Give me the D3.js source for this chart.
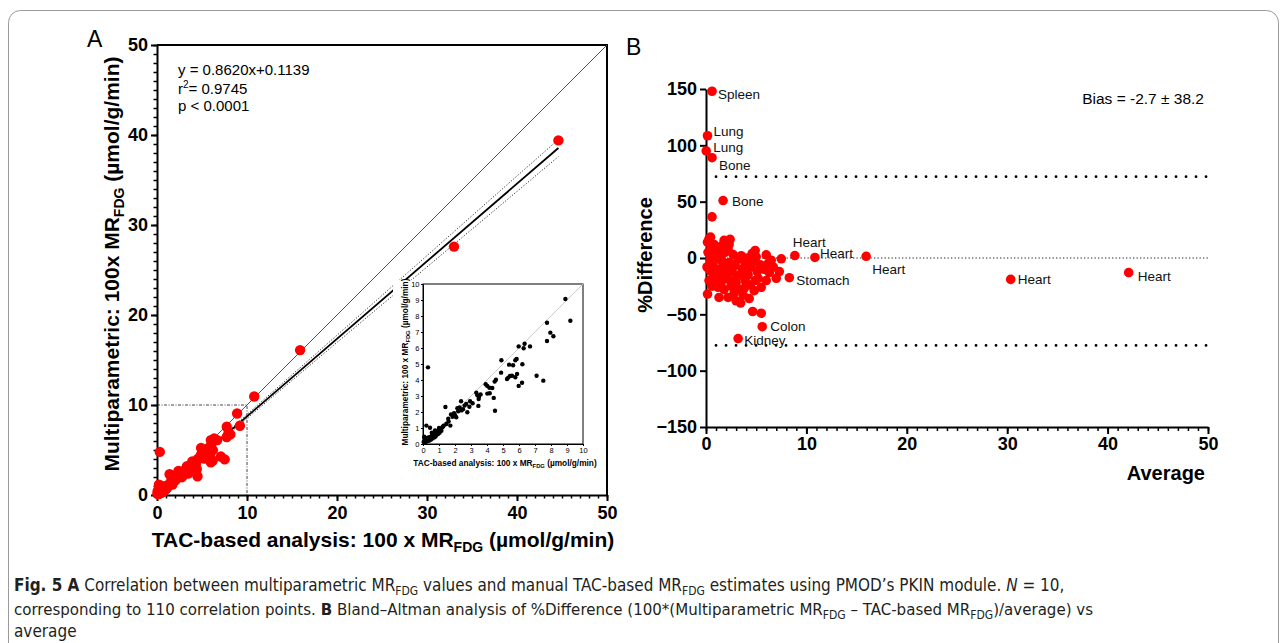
<!DOCTYPE html>
<html>
<head>
<meta charset="utf-8">
<script src="https://cdn.jsdelivr.net/npm/d3@7"></script>
<style>
  body { margin: 0; background: #fff; }
  svg { display: block; font-family: "Liberation Sans", Arial, sans-serif; }
</style>
</head>
<body>
<svg id="fig" width="1287" height="643"></svg>
<script>
// ---- panel A : TAC-based vs multiparametric (100 x MRFDG) ----
const tacVals = [8.9, 9.21, 7.75, 7.96, 8.15, 7.75, 5.98, 6.35, 6.29, 6.69,
  4.9, 5.77, 5.85, 5.38, 5.63, 6.21, 4.88, 5.88, 5.44, 5.33,
  5.25, 5.56, 5.77, 7.1, 7.52, 5.98, 6.19, 4.56, 4.48, 4.33,
  4.17, 3.92, 4.02, 4.15, 4.02, 4.42, 4.5, 3.6, 3.5, 3.33,
  3.48, 3.46, 2.94, 2.9, 2.77, 2.38, 2.29, 2.5, 2.15, 2.08,
  1.94, 1.75, 1.58, 1.71, 1.4, 1.46, 1.21, 1.08, 0.98, 0.88,
  0.77, 0.63, 0.5, 0.38, 0.25, 0.13, 0.04, 0.21, 0.44, 0.31,
  0.08, 0.94, 0.73, 1.04, 2.2, 2.6, 3.1, 1.85, 1.25, 0.55,
  0.65, 0.85, 1.15, 0.35, 0.6, 0.15, 0.45, 0.7, 0.92, 1.3,
  1.1, 0.28, 0.5, 0.8, 0.2, 0.4, 2.4, 2.7, 3.4, 0.1,
  1.0, 0.55, 2.0, 1.6, 0.3, 0.75, 10.8, 15.9, 33.0, 44.6];
const multiVals = [9.06, 7.7, 7.58, 6.96, 6.73, 6.44, 6.1, 6.27, 5.98, 6.1,
  5.23, 5.23, 5.31, 4.96, 4.92, 4.98, 4.46, 4.38, 4.25, 4.15,
  4.06, 4.27, 4.17, 4.27, 3.96, 3.63, 3.83, 4.02, 3.9, 3.5,
  3.17, 3.73, 3.63, 3.52, 3.15, 2.88, 2.08, 3.1, 2.96, 3.21,
  2.81, 2.38, 2.67, 2.33, 1.98, 2.67, 2.29, 2.17, 2.23, 1.67,
  1.92, 1.85, 1.58, 1.15, 2.31, 1.25, 1.04, 0.96, 0.88, 0.77,
  0.67, 0.54, 0.46, 0.42, 0.33, 0.25, 0.13, 1.15, 1.02, 4.79,
  0.46, 0.63, 0.42, 0.71, 2.05, 2.4, 2.55, 1.7, 1.1, 0.5,
  0.62, 0.58, 0.83, 0.28, 0.35, 0.1, 0.38, 0.55, 0.72, 1.15,
  0.9, 0.38, 0.28, 0.5, 0.15, 0.22, 2.1, 2.5, 3.05, 0.35,
  1.0, 0.7, 1.8, 1.4, 0.2, 0.85, 10.95, 16.1, 27.6, 39.4];

const regSlope = 0.8620, regIntercept = 0.1139, regMaxX = 44.6;
const ciX = [0, 5, 10, 20, 30, 40, 44.6];
const ciUpper = [0.33, 4.56, 8.95, 17.75, 26.6, 35.45, 39.5];
const ciLower = [-0.1, 4.28, 8.51, 16.95, 25.34, 33.73, 37.6];
const statLines = ["y = 0.8620x+0.1139", "= 0.9745", "p < 0.0001"];
const ticksA = [0, 10, 20, 30, 40, 50];
const ticksInset = d3.range(0, 11);

// ---- panel B : Bland-Altman ----
const avgVals = [0.6, 0.3, 0.45, 0.15, 1.8, 2.4, 2.3, 1.6, 4.9, 6.0,
  7.5, 7.3, 7.0, 5.5, 4.8, 3.45, 1.3, 0.15, 4.65, 5.5,
  0.5, 0.9, 1.0, 0.2, 0.4, 0.1, 0.7, 1.2, 0.9, 0.3,
  0.6, 1.5, 1.8, 2.1, 2.5, 2.8, 3.0, 3.3, 3.7, 3.9,
  4.2, 4.4, 2.0, 2.3, 2.6, 2.9, 3.2, 3.6, 3.9, 4.1,
  4.5, 4.7, 5.1, 5.4, 5.8, 6.2, 6.5, 5.2, 6.0, 4.3,
  2.2, 3.0, 1.1, 1.4, 1.9, 2.2, 2.7, 3.4, 4.0, 1.6,
  0.8, 1.3, 5.0, 4.6, 6.7, 6.3, 1.7, 2.4, 0.5, 3.5,
  4.9, 3.8, 1.0, 0.3, 2.0, 1.5, 2.6, 3.1, 0.7, 1.2];
const diffVals = [36.5, 17, 18.5, 14, 15.6, 16.5, 12, 11, 6.7, 2.8,
  -0.7, -12, -18, -26, -29, -40, -35, -32, -47.5, -49,
  10, 7, 4, 5, -2, -8, -5, -10, -15, -20,
  -25, -22, -28, -18, -25, -31, -22, -28, -33, -20,
  -15, -24, -8, -4, -12, -6, -1, -10, -5, 0,
  -8, -3, -12, -6, -10, -5, -2, -18, -20, -36,
  -35, -38, 0, 3, 5, 8, 3, -15, -12, -3,
  12, 8, 1, 4, -8, -13, -14, -20, -12, 2,
  -20, -27, -18, -10, -14, 0, -9, -16, 2, -26];
const labelNames = ["Spleen", "Lung", "Lung", "Bone", "Bone", "Heart", "Heart", "Heart",
  "Stomach", "Heart", "Heart", "Colon", "Kidney"];
const labelAvg = [0.6, 0.15, 0.02, 0.6, 1.7, 8.85, 10.85, 15.95, 8.3, 30.35, 42.1, 5.6, 3.2];
const labelDiff = [148, 108.5, 95, 89, 51, 2.2, 0.5, 1.5, -17.5, -19, -13, -61, -71.5];
const biasText = "Bias = -2.7 ± 38.2";
const loaUpper = 72.2, loaLower = -77.6, zeroLine = 0;
const ticksBx = [0, 10, 20, 30, 40, 50];
const ticksBy = [-150, -100, -50, 0, 50, 100, 150];

// label offsets (px) for the organ names
const labelOffsets = [[6, 8], [6, 0], [7, 1], [7, 12], [9, 5], [-2, -9], [5, 1], [6, 18],
  [7, 7], [7, 5], [9, 8], [8, 4], [6, 6]];

const svg = d3.select('#fig');
const FONT = '"Liberation Sans", Arial, sans-serif';
const RED = '#ff0000';

// frame around figure + caption
svg.append('rect')
  .attr('x', 8.5).attr('y', 10.5).attr('width', 1270).attr('height', 645)
  .attr('rx', 12).attr('fill', 'none').attr('stroke', '#9a9a9a').attr('stroke-width', 1);

function styleAxis(g, fs) {
  g.attr('font-family', FONT).attr('font-size', fs).attr('font-weight', 'bold');
  g.select('.domain').attr('stroke-width', 2);
  g.selectAll('.tick line').attr('stroke-width', 2);
  g.selectAll('.tick text').attr('fill', '#000');
}

function minorAxis(axisFn, scale, values, size, transform) {
  const g = svg.append('g').attr('transform', transform)
    .call(axisFn(scale).tickValues(values).tickSize(size).tickFormat('').tickSizeOuter(0));
  g.select('.domain').remove();
  g.selectAll('.tick line').attr('stroke-width', 1.5);
}

// ================= Panel A =================
const xA = d3.scaleLinear().domain([0, 50]).range([157, 607]);
const yA = d3.scaleLinear().domain([0, 50]).range([495, 45]);

svg.append('text').attr('x', 87).attr('y', 47).attr('font-size', 23)
  .attr('font-family', FONT).text('A');

// frame top/right
svg.append('path')
  .attr('d', `M${xA(0)},${yA(50)}H${xA(50)}V${yA(0)}`)
  .attr('fill', 'none').attr('stroke', '#000').attr('stroke-width', 2);

// identity line
svg.append('line')
  .attr('x1', xA(0)).attr('y1', yA(0)).attr('x2', xA(50)).attr('y2', yA(50))
  .attr('stroke', '#555').attr('stroke-width', 1);

// zoom window indicator
svg.append('path')
  .attr('d', `M${xA(0)},${yA(10)}H${xA(10)}V${yA(0)}`)
  .attr('fill', 'none').attr('stroke', '#444').attr('stroke-width', 1)
  .attr('stroke-dasharray', '3 1.5 1 1.5');

// confidence bands
const ciLine = d3.line().x((d, i) => xA(ciX[i])).y(d => yA(d));
[ciUpper, ciLower].forEach(arr => {
  svg.append('path').attr('d', ciLine(arr)).attr('fill', 'none')
    .attr('stroke', '#333').attr('stroke-width', 1).attr('stroke-dasharray', '1.2 1.8');
});

// regression line
svg.append('line')
  .attr('x1', xA(0)).attr('y1', yA(regIntercept))
  .attr('x2', xA(regMaxX)).attr('y2', yA(regSlope * regMaxX + regIntercept))
  .attr('stroke', '#000').attr('stroke-width', 1.8);

// axes
minorAxis(d3.axisBottom, xA, d3.range(0, 51), 3.5, `translate(0,${yA(0)})`);
minorAxis(d3.axisLeft, yA, d3.range(0, 51), 3.5, `translate(${xA(0)},0)`);
const gxA = svg.append('g').attr('transform', `translate(0,${yA(0)})`)
  .call(d3.axisBottom(xA).tickValues(ticksA).tickSize(6).tickPadding(5).tickSizeOuter(0));
styleAxis(gxA, 18);
const gyA = svg.append('g').attr('transform', `translate(${xA(0)},0)`)
  .call(d3.axisLeft(yA).tickValues(ticksA).tickSize(6).tickPadding(3).tickSizeOuter(0));
styleAxis(gyA, 18);

// axis titles
const xtA = svg.append('text').attr('x', 383).attr('y', 547).attr('text-anchor', 'middle')
  .attr('font-family', FONT).attr('font-weight', 'bold').attr('font-size', 21);
xtA.append('tspan').text('TAC-based analysis: 100 x MR');
xtA.append('tspan').attr('font-size', 14).attr('dy', 5).text('FDG');
xtA.append('tspan').attr('dy', -5).text(' (µmol/g/min)');

const ytA = svg.append('text').attr('transform', 'translate(119,264) rotate(-90)')
  .attr('text-anchor', 'middle')
  .attr('font-family', FONT).attr('font-weight', 'bold').attr('font-size', 21);
ytA.append('tspan').text('Multiparametric: 100x MR');
ytA.append('tspan').attr('font-size', 14).attr('dy', 5).text('FDG');
ytA.append('tspan').attr('dy', -5).text(' (µmol/g/min)');

// stats text
const st = svg.append('g').attr('font-family', FONT).attr('font-size', 15);
st.append('text').attr('x', 178).attr('y', 75).text(statLines[0]);
const r2 = st.append('text').attr('x', 178).attr('y', 94);
r2.append('tspan').text('r');
r2.append('tspan').attr('font-size', 10).attr('dy', -6).text('2');
r2.append('tspan').attr('dy', 6).text(statLines[1]);
st.append('text').attr('x', 178).attr('y', 111).text(statLines[2]);

// red points
svg.append('g').selectAll('circle')
  .data(tacVals)
  .join('circle')
  .attr('cx', d => xA(d))
  .attr('cy', (d, i) => yA(multiVals[i]))
  .attr('r', 5.2)
  .attr('fill', RED);

// ---- inset ----
const xI = d3.scaleLinear().domain([0, 10]).range([423, 583]);
const yI = d3.scaleLinear().domain([0, 10]).range([444, 284]);
svg.append('rect').attr('x', 393).attr('y', 280).attr('width', 210).attr('height', 192).attr('fill', '#fff');
svg.append('rect').attr('x', xI(0)).attr('y', yI(10)).attr('width', xI(10) - xI(0))
  .attr('height', yI(0) - yI(10)).attr('fill', 'none').attr('stroke', '#000').attr('stroke-width', 1);
svg.append('line')
  .attr('x1', xI(0)).attr('y1', yI(0)).attr('x2', xI(10)).attr('y2', yI(10))
  .attr('stroke', '#c8c8c8').attr('stroke-width', 1);

const gxI = svg.append('g').attr('transform', `translate(0,${yI(0)})`)
  .call(d3.axisBottom(xI).tickValues(ticksInset).tickSize(2).tickPadding(1.5).tickSizeOuter(0));
gxI.attr('font-family', FONT).attr('font-size', 7.5);
gxI.selectAll('.tick text').attr('fill', '#000');
const gyI = svg.append('g').attr('transform', `translate(${xI(0)},0)`)
  .call(d3.axisLeft(yI).tickValues(ticksInset).tickSize(2).tickPadding(1.5).tickSizeOuter(0));
gyI.attr('font-family', FONT).attr('font-size', 7.5);
gyI.selectAll('.tick text').attr('fill', '#000');

const xtI = svg.append('text').attr('x', 505).attr('y', 466).attr('text-anchor', 'middle')
  .attr('font-family', FONT).attr('font-weight', 'bold').attr('font-size', 8.3);
xtI.append('tspan').text('TAC-based analysis: 100 x MR');
xtI.append('tspan').attr('font-size', 5.8).attr('dy', 2).text('FDG');
xtI.append('tspan').attr('dy', -2).text(' (µmol/g/min)');
const ytI = svg.append('text').attr('transform', 'translate(408,362) rotate(-90)')
  .attr('text-anchor', 'middle')
  .attr('font-family', FONT).attr('font-weight', 'bold').attr('font-size', 8.3);
ytI.append('tspan').text('Multiparametric: 100 x MR');
ytI.append('tspan').attr('font-size', 5.8).attr('dy', 2).text('FDG');
ytI.append('tspan').attr('dy', -2).text(' (µmol/g/min)');

svg.append('g').selectAll('circle')
  .data(tacVals.map((d, i) => [d, multiVals[i]]).filter(p => p[0] <= 10))
  .join('circle')
  .attr('cx', p => xI(p[0]))
  .attr('cy', p => yI(p[1]))
  .attr('r', 2.2)
  .attr('fill', '#000');

// ================= Panel B =================
const xB = d3.scaleLinear().domain([0, 50]).range([706, 1208]);
const yB = d3.scaleLinear().domain([-150, 150]).range([427, 89]);

svg.append('text').attr('x', 626).attr('y', 55).attr('font-size', 23)
  .attr('font-family', FONT).text('B');

// limits of agreement
[loaUpper, loaLower].forEach(v => {
  svg.append('line')
    .attr('x1', xB(1)).attr('x2', xB(50)).attr('y1', yB(v)).attr('y2', yB(v))
    .attr('stroke', '#000').attr('stroke-width', 2.8).attr('stroke-linecap', 'round')
    .attr('stroke-dasharray', '0 10');
});
svg.append('line')
  .attr('x1', xB(0)).attr('x2', xB(50)).attr('y1', yB(zeroLine)).attr('y2', yB(zeroLine))
  .attr('stroke', '#222').attr('stroke-width', 1).attr('stroke-dasharray', '1.3 2.2');

minorAxis(d3.axisBottom, xB, d3.range(0, 51), 4, `translate(0,${yB(-150)})`);
const gxB = svg.append('g').attr('transform', `translate(0,${yB(-150)})`)
  .call(d3.axisBottom(xB).tickValues(ticksBx).tickSize(7).tickPadding(3).tickSizeOuter(0));
styleAxis(gxB, 18);
const gyB = svg.append('g').attr('transform', `translate(${xB(0)},0)`)
  .call(d3.axisLeft(yB).tickValues(ticksBy).tickSize(6).tickPadding(3).tickSizeOuter(0));
styleAxis(gyB, 18);

svg.append('text').attr('transform', 'translate(652,255) rotate(-90)')
  .attr('text-anchor', 'middle').attr('font-family', FONT)
  .attr('font-weight', 'bold').attr('font-size', 20).text('%Difference');
svg.append('text').attr('x', 1205).attr('y', 480).attr('text-anchor', 'end')
  .attr('font-family', FONT).attr('font-weight', 'bold').attr('font-size', 20).text('Average');
svg.append('text').attr('x', 1204).attr('y', 104).attr('text-anchor', 'end')
  .attr('font-family', FONT).attr('font-size', 15.5).text(biasText);

svg.append('g').selectAll('circle')
  .data(avgVals)
  .join('circle')
  .attr('cx', d => xB(d))
  .attr('cy', (d, i) => yB(diffVals[i]))
  .attr('r', 4.8)
  .attr('fill', RED);

const lab = svg.append('g').selectAll('g')
  .data(labelNames)
  .join('g')
  .attr('transform', (d, i) => `translate(${xB(labelAvg[i])},${yB(labelDiff[i])})`);
lab.append('circle').attr('r', 4.8).attr('fill', RED);
lab.append('text')
  .attr('x', (d, i) => labelOffsets[i][0])
  .attr('y', (d, i) => labelOffsets[i][1])
  .attr('font-family', FONT).attr('font-size', 13.5).attr('fill', '#111')
  .text(d => d);

// ================= caption =================
const CAP = '"Liberation Sans Narrow", "DejaVu Sans Condensed", sans-serif';
const cap = svg.append('g').attr('font-family', CAP).attr('font-size', 17).attr('fill', '#231f20');
function sub(t, s) { t.append('tspan').attr('font-size', 12).attr('dy', 4).text(s); }
// shrink a caption line to the width it has in the figure
function fitWidth(t, w) {
  const len = t.node().getComputedTextLength();
  if (len > w) t.attr('font-size', 17 * w / len);
}
const l1 = cap.append('text').attr('x', 14).attr('y', 591);
l1.append('tspan').attr('font-weight', 'bold').text('Fig. 5  A');
l1.append('tspan').text(' Correlation between multiparametric MR');
sub(l1, 'FDG');
l1.append('tspan').attr('dy', -4).text(' values and manual TAC-based MR');
sub(l1, 'FDG');
l1.append('tspan').attr('dy', -4).text(' estimates using PMOD’s PKIN module. ');
l1.append('tspan').attr('font-style', 'italic').text('N');
l1.append('tspan').text(' = 10,');
fitWidth(l1, 1051);

const l2 = cap.append('text').attr('x', 14).attr('y', 615);
l2.append('tspan').text('corresponding to 110 correlation points. ');
l2.append('tspan').attr('font-weight', 'bold').text('B');
l2.append('tspan').text(' Bland–Altman analysis of %Difference (100*(Multiparametric MR');
sub(l2, 'FDG');
l2.append('tspan').attr('dy', -4).text(' – TAC-based MR');
sub(l2, 'FDG');
l2.append('tspan').attr('dy', -4).text(')/average) vs');
fitWidth(l2, 1079);

cap.append('text').attr('x', 14).attr('y', 637).text('average');
</script>
</body>
</html>
